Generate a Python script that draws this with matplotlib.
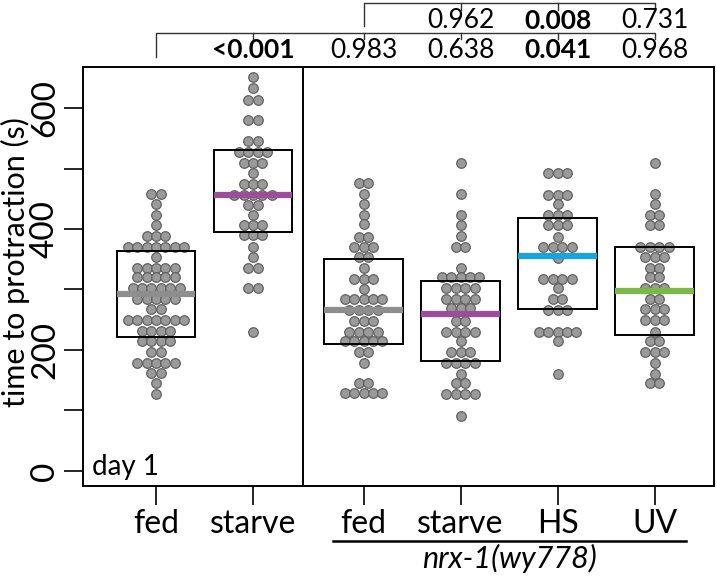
import numpy as np
import matplotlib
matplotlib.use('Agg')
import matplotlib.pyplot as plt
from matplotlib.patches import Rectangle

plt.rcParams['font.family'] = ['Lato', 'DejaVu Sans']

# group labels along the x axis
labels = ['fed', 'starve', 'fed', 'starve', 'HS', 'UV']

# beeswarm rows: value (s) and number of worms in that row
fed1_vals = [458, 441, 423, 407, 388, 371, 354, 336, 320, 302, 285, 267, 250, 231, 214, 196, 179, 162, 145, 127]
fed1_counts = [2, 1, 1, 1, 3, 7, 1, 5, 5, 6, 5, 2, 7, 4, 4, 2, 5, 2, 1, 1]

starve1_vals = [652, 634, 614, 580, 545, 528, 510, 492, 474, 457, 440, 423, 407, 390, 371, 353, 335, 302, 230]
starve1_counts = [1, 1, 2, 2, 2, 4, 3, 1, 3, 5, 2, 1, 3, 3, 1, 1, 2, 2, 1]

fed2_vals = [476, 458, 441, 424, 408, 387, 370, 353, 336, 317, 301, 284, 266, 248, 230, 214, 197, 179, 145, 129]
fed2_counts = [2, 1, 1, 1, 1, 2, 3, 2, 1, 3, 1, 5, 4, 3, 4, 5, 2, 1, 2, 5]

starve2_vals = [509, 458, 424, 406, 388, 371, 336, 320, 302, 285, 269, 248, 230, 214, 196, 179, 161, 145, 127, 90]
starve2_counts = [1, 1, 1, 1, 1, 2, 1, 5, 4, 4, 3, 2, 4, 1, 3, 4, 1, 2, 4, 1]

hs_vals = [492, 457, 441, 424, 406, 387, 370, 352, 318, 302, 285, 266, 230, 214, 161]
hs_counts = [3, 3, 1, 3, 3, 1, 4, 1, 4, 1, 2, 3, 5, 1, 1]

uv_vals = [509, 458, 441, 423, 407, 370, 353, 336, 320, 302, 285, 267, 250, 230, 214, 196, 179, 161, 145]
uv_counts = [1, 1, 1, 2, 2, 4, 3, 2, 2, 3, 2, 3, 3, 1, 2, 3, 1, 1, 2]

# box (quartiles) and median
q1 = [222, 395, 210, 182, 267, 224]
q3 = [364, 530, 350, 314, 418, 370]
medians = [292, 457, 266, 260, 355, 298]
median_colors = ['#8e8e8e', '#9b4f97', '#8e8e8e', '#9b4f97', '#1ba3df', '#7cb749']

# p values (upper row vs nrx-1 fed, lower row vs wild-type fed)
p_row1 = ['0.962', '0.008', '0.731']
p_row1_bold = [False, True, False]
p_row2 = ['<0.001', '0.983', '0.638', '0.041', '0.968']
p_row2_bold = [True, False, False, True, False]

groups = [(fed1_vals, fed1_counts), (starve1_vals, starve1_counts),
          (fed2_vals, fed2_counts), (starve2_vals, starve2_counts),
          (hs_vals, hs_counts), (uv_vals, uv_counts)]

# layout
pos = [0, 1, 2.14, 3.14, 4.14, 5.14]
hw = 0.405
dx = 0.097

fig = plt.figure(figsize=(7.17, 5.78), dpi=100)
ax = fig.add_axes([83/717, 92/578, 631/717, 419/578])

for i, (vals, counts) in enumerate(groups):
    xs, ys = [], []
    for v, n in zip(vals, counts):
        off = (np.arange(n) - (n - 1) / 2) * dx
        xs.extend(pos[i] + off)
        ys.extend([v] * n)
    ax.scatter(xs, ys, s=6.9**2, c='#9a9a9a', edgecolors='#626262', linewidths=0.9, zorder=2)
    ax.add_patch(Rectangle((pos[i] - hw, q1[i]), 2 * hw, q3[i] - q1[i], fill=False,
                           ec='black', lw=1.4, zorder=3))
    ax.plot([pos[i] - hw, pos[i] + hw], [medians[i], medians[i]], color=median_colors[i],
            lw=4.5, solid_capstyle='butt', zorder=4)

ax.axvline(1.515, color='black', lw=1.4)
ax.set_xlim(-0.753, 5.753)
ax.set_ylim(-25, 668)

for s in ax.spines.values():
    s.set_linewidth(1.4)

ax.set_yticks(range(0, 700, 100))
ax.set_yticklabels(['0', '', '200', '', '400', '', '600'], rotation=90, va='center', fontsize=24)
ax.set_xticks(pos)
ax.set_xticklabels(labels, fontsize=23)
ax.tick_params(axis='both', length=13.5, width=1.2, pad=3)

fig.text(15/717, 1 - 262/578, 'time to protraction (s)', rotation=90, ha='center', va='center', fontsize=22)
ax.text(-0.66, 0.045, 'day 1', transform=ax.get_xaxis_transform(), ha='left', va='center', fontsize=20)

# genotype underline
tr = ax.get_xaxis_transform()
ax.plot([1.825, 5.464], [-0.131, -0.131], transform=tr, color='black', lw=1.8, clip_on=False)
ax.text(3.64, -0.172, 'nrx-1(wy778)', transform=tr, ha='center', va='center', fontsize=22, style='italic')

# significance brackets
bc = '#333333'
ax.plot([pos[0], pos[0], pos[5], pos[5]], [1.024, 1.081, 1.081, 1.067], transform=tr, color=bc, lw=1.0, clip_on=False)
for j in range(1, 5):
    ax.plot([pos[j], pos[j]], [1.081, 1.067], transform=tr, color=bc, lw=1.0, clip_on=False)
ax.plot([pos[2], pos[2], pos[5], pos[5]], [1.098, 1.153, 1.153, 1.136], transform=tr, color=bc, lw=1.0, clip_on=False)
for j in range(3, 5):
    ax.plot([pos[j], pos[j]], [1.153, 1.136], transform=tr, color=bc, lw=1.0, clip_on=False)

for j, (t, b) in enumerate(zip(p_row2, p_row2_bold)):
    ax.text(pos[j + 1], 1.04, t, transform=tr, ha='center', va='center', fontsize=19,
            fontweight='bold' if b else 'normal')
for j, (t, b) in enumerate(zip(p_row1, p_row1_bold)):
    ax.text(pos[j + 3], 1.11, t, transform=tr, ha='center', va='center', fontsize=19,
            fontweight='bold' if b else 'normal')

fig.savefig('out.png', dpi=100)
